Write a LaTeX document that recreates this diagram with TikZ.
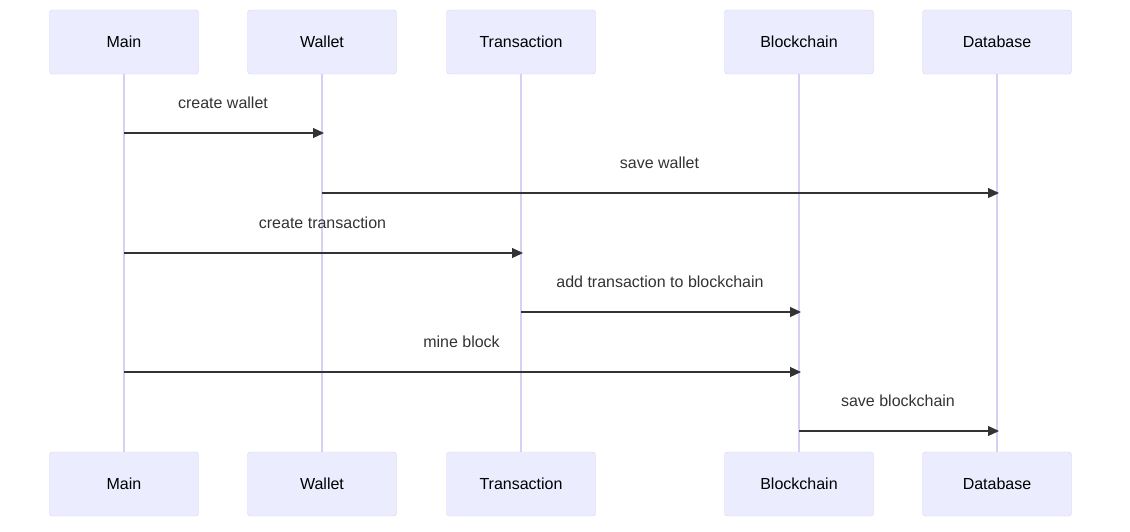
\documentclass[tikz,border=0pt]{standalone}
\usepackage{fontspec}
\setmainfont{Liberation Sans}
\usepackage{tikz}
\usetikzlibrary{arrows.meta}
\tikzstyle{sequence} = [x = 1pt, y = -1pt]
\definecolor{actorFill}{HTML}{ECECFF}
\definecolor{actorBorder}{HTML}{DACEF3}
\definecolor{messageColor}{HTML}{333333}
\tikzstyle{actorStyle} = [draw=actorBorder, fill=actorFill, rounded corners = 3pt, minimum width = 149pt, minimum height = 64pt, inner sep = 0pt, text=black, font=\fontsize{16}{19}\selectfont]
\tikzstyle{lifeLine} = [color=actorBorder, line width = 1.8pt]
\tikzstyle{messageArrow} = [color=messageColor, line width = 1.2pt, -{Triangle[length=11pt, width=10pt]}, shorten > = -2pt]
\tikzstyle{messageText} = [text=messageColor, font=\fontsize{16}{19}\selectfont, midway, yshift = 30pt]
\newcommand{\actorPair}[3]{
  \node [actorStyle] (#1Top) at (#2, 42) {#3};
  \node [actorStyle] (#1Bottom) at (#2, 484) {#3};
  \draw [lifeLine] (#1Top) -- (#1Bottom);
}
\newcommand{\sendMessage}[4]{\draw [messageArrow] (#1Top |- 0,#3) -- (#2Top |- 0,#3) node [messageText] {#4};}

\begin{document}
\begin{tikzpicture}[sequence]
  \useasboundingbox (0,0) rectangle (1130,531);
  \foreach \name/\x/\label in {main/124/Main, wallet/322/Wallet, transaction/521/Transaction, blockchain/799/Blockchain, database/997/Database} {
    \actorPair{\name}{\x}{\label}
  }
  \sendMessage{main}{wallet}{133}{create wallet}
  \sendMessage{wallet}{database}{193}{save wallet}
  \sendMessage{main}{transaction}{253}{create transaction}
  \sendMessage{transaction}{blockchain}{312}{add transaction to blockchain}
  \sendMessage{main}{blockchain}{372}{mine block}
  \sendMessage{blockchain}{database}{431}{save blockchain}
\end{tikzpicture}
\end{document}
